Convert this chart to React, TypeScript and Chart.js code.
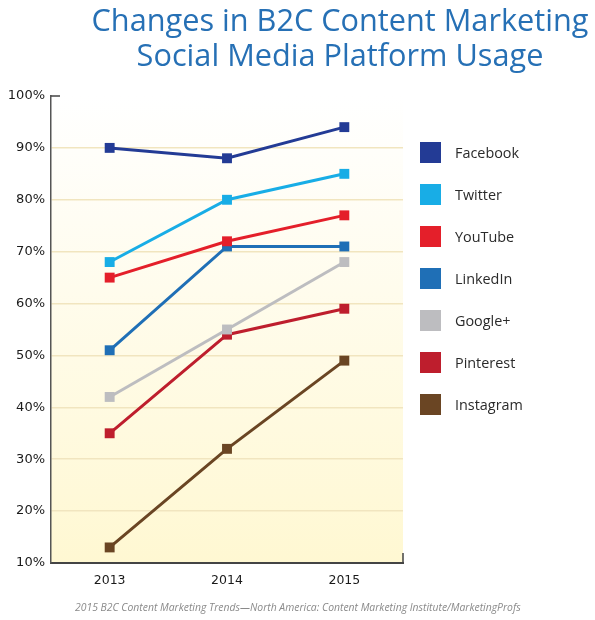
import React, { useEffect, useRef } from "react";
import { Chart, registerables } from "chart.js";

Chart.register(...registerables);

const years = ["2013", "2014", "2015"];
const facebook = [90, 88, 94];
const twitter = [68, 80, 85];
const youtube = [65, 72, 77];
const linkedin = [51, 71, 71];
const googlePlus = [42, 55, 68];
const pinterest = [35, 54, 59];
const instagram = [13, 32, 49];

const seriesNames = ["Facebook", "Twitter", "YouTube", "LinkedIn", "Google+", "Pinterest", "Instagram"];
const seriesValues = [facebook, twitter, youtube, linkedin, googlePlus, pinterest, instagram];
const seriesColors = ["#233b95", "#18ade6", "#e41f2a", "#1f6fb6", "#bdbdc0", "#be1e2d", "#6a4523"];

const yMin = 10;
const yMax = 100;
const yStep = 10;

const titleLines = ["Changes in B2C Content Marketing", "Social Media Platform Usage"];
const sourceText = "2015 B2C Content Marketing Trends\u2014North America: Content Marketing Institute/MarketingProfs";

const plotBackground = {
  id: "plotBackground",
  beforeDraw(chart: any) {
    const { ctx, chartArea } = chart;
    if (!chartArea) return;
    const g = ctx.createLinearGradient(0, chartArea.top, 0, chartArea.bottom);
    g.addColorStop(0, "#ffffff");
    g.addColorStop(0.12, "#fffefa");
    g.addColorStop(1, "#fff8d2");
    ctx.save();
    ctx.fillStyle = g;
    ctx.fillRect(chartArea.left, chartArea.top, chartArea.right - chartArea.left, chartArea.bottom - chartArea.top);
    ctx.restore();
  },
  afterDraw(chart: any) {
    const { ctx, chartArea } = chart;
    ctx.save();
    ctx.strokeStyle = "#444";
    ctx.lineWidth = 1.5;
    ctx.beginPath();
    ctx.moveTo(chartArea.left, chartArea.top);
    ctx.lineTo(chartArea.left + 9, chartArea.top);
    ctx.moveTo(chartArea.right, chartArea.bottom);
    ctx.lineTo(chartArea.right, chartArea.bottom - 10);
    ctx.stroke();
    ctx.restore();
  },
};

export default function App() {
  const canvasRef = useRef<HTMLCanvasElement | null>(null);

  useEffect(() => {
    if (!canvasRef.current) return;
    const chart = new Chart(canvasRef.current, {
      type: "line",
      data: {
        labels: years,
        datasets: seriesNames.map((name, i) => ({
          label: name,
          data: seriesValues[i],
          borderColor: seriesColors[i],
          backgroundColor: seriesColors[i],
          borderWidth: 3,
          pointStyle: "rect",
          pointRadius: 7,
          pointHoverRadius: 7,
          pointBorderWidth: 0,
          tension: 0,
          fill: false,
        })),
      },
      options: {
        animation: false,
        responsive: false,
        maintainAspectRatio: false,
        layout: { padding: { left: 0, top: 96, right: 192, bottom: 0 } },
        plugins: {
          legend: { display: false },
          title: { display: false },
          tooltip: { enabled: false },
        },
        scales: {
          x: {
            type: "category",
            offset: true,
            afterFit(scale: any) {
              scale.height = 57;
            },
            grid: { display: false, drawTicks: false },
            border: { display: true, color: "#444", width: 2 },
            ticks: {
              color: "#1a1a1a",
              padding: 10,
              font: { family: "DejaVu Sans", size: 12.5 },
            },
          },
          y: {
            type: "linear",
            min: yMin,
            max: yMax,
            afterFit(scale: any) {
              scale.width = 51;
            },
            grid: {
              drawTicks: false,
              lineWidth: 1.5,
              color: (ctx: any) =>
                ctx.tick && (ctx.tick.value === yMin || ctx.tick.value === yMax) ? "rgba(0,0,0,0)" : "#f1e5bf",
            },
            border: { display: true, color: "#555", width: 1.5 },
            ticks: {
              stepSize: yStep,
              color: "#1a1a1a",
              padding: 6,
              font: { family: "DejaVu Sans", size: 13 },
              callback: (v: any) => `${v}%`,
            },
          },
        },
      },
      plugins: [plotBackground],
    });
    return () => chart.destroy();
  }, []);

  return (
    <div style={{ position: "absolute", left: 0, top: 0, width: 595, height: 620, background: "#fff", overflow: "hidden" }}>
      <canvas ref={canvasRef} width={595} height={620} style={{ position: "absolute", left: 0, top: 0, width: 595, height: 620 }} />
      {titleLines.map((line, i) => (
        <div
          key={line}
          style={{
            position: "absolute",
            left: 40,
            width: 600,
            top: i === 0 ? -1 : 34,
            textAlign: "center",
            fontFamily: "'Open Sans', sans-serif",
            fontSize: 31,
            lineHeight: "40px",
            color: "#2670b5",
            whiteSpace: "nowrap",
            transform: "scaleX(0.99)",
          }}
        >
          {line}
        </div>
      ))}
      {seriesNames.map((name, i) => (
        <div key={name} style={{ position: "absolute", left: 420, top: 141.5 + i * 42.1, height: 21, display: "flex", alignItems: "center" }}>
          <div style={{ width: 21, height: 21, background: seriesColors[i] }} />
          <div style={{ marginLeft: 14, fontFamily: "'Open Sans', sans-serif", fontSize: 14.4, color: "#2a2a2a", whiteSpace: "nowrap" }}>{name}</div>
        </div>
      ))}
      <div
        style={{
          position: "absolute",
          left: 75,
          top: 600,
          fontFamily: "'Open Sans', sans-serif",
          fontStyle: "italic",
          fontSize: 10.4,
          color: "#8a8a8a",
          whiteSpace: "nowrap",
        }}
      >
        {sourceText}
      </div>
    </div>
  );
}
